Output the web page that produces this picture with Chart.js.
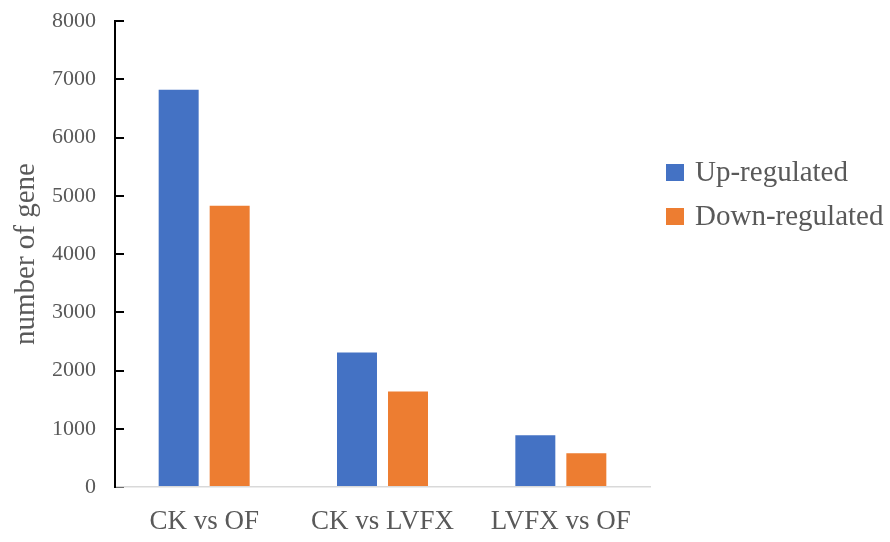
<!DOCTYPE html>
<html>
<head>
<meta charset="utf-8">
<script src="https://cdn.jsdelivr.net/npm/chart.js@4/dist/chart.umd.min.js"></script>
<style>
  html, body { margin: 0; padding: 0; background: #fff; }
  #wrap { width: 890px; height: 542px; }
</style>
</head>
<body>
<div id="wrap"><canvas id="c" width="890" height="542"></canvas></div>
<script>
// Comparisons and differentially expressed gene counts
const categories = ['CK vs OF', 'CK vs LVFX', 'LVFX vs OF'];
const upRegulated = [6820, 2310, 890];
const downRegulated = [4830, 1640, 580];
const yTicks = [0, 1000, 2000, 3000, 4000, 5000, 6000, 7000, 8000];

const FONT = '"Liberation Serif", "Times New Roman", serif';
const TEXT = '#595959';

// Legend drawn to the right of the plot, squares followed by labels
const sideLegend = {
  id: 'sideLegend',
  afterDraw(chart) {
    const ctx = chart.ctx;
    const x0 = chart.chartArea.right + 16;
    const y0 = 173;
    const step = 44;
    ctx.save();
    ctx.font = '29px ' + FONT;
    ctx.textBaseline = 'middle';
    ctx.textAlign = 'left';
    chart.data.datasets.forEach((ds, i) => {
      const cy = y0 + i * step;
      ctx.fillStyle = ds.backgroundColor;
      ctx.fillRect(x0, cy - 9, 18, 17);
      ctx.fillStyle = TEXT;
      ctx.fillText(ds.label, x0 + 29, cy);
    });
    ctx.restore();
  }
};

new Chart(document.getElementById('c'), {
  type: 'bar',
  data: {
    labels: categories,
    datasets: [
      { label: 'Up-regulated', data: upRegulated, backgroundColor: '#4472C4' },
      { label: 'Down-regulated', data: downRegulated, backgroundColor: '#ED7D31' }
    ]
  },
  options: {
    responsive: false,
    animation: false,
    devicePixelRatio: 1,
    layout: { padding: { top: 21, right: 240, bottom: 0, left: 0 } },
    datasets: { bar: { categoryPercentage: 0.572, barPercentage: 0.784 } },
    plugins: {
      legend: { display: false },
      tooltip: { enabled: false }
    },
    scales: {
      x: {
        grid: { display: false, drawTicks: false },
        border: { display: true, color: '#d9d9d9', width: 1.5 },
        ticks: {
          color: TEXT,
          font: { family: FONT, size: 27 },
          padding: 19,
          maxRotation: 0
        },
        afterFit(scale) { scale.height = 55; }
      },
      y: {
        min: 0,
        max: 8000,
        afterBuildTicks(scale) { scale.ticks = yTicks.map(v => ({ value: v })); },
        grid: {
          drawOnChartArea: false,
          drawTicks: true,
          tickLength: -9,
          color: '#000',
          lineWidth: 2
        },
        border: { display: true, color: '#000', width: 2 },
        ticks: {
          color: TEXT,
          font: { family: FONT, size: 22 },
          padding: 28,
          callback: (v) => String(v)
        },
        title: {
          display: true,
          text: 'number of gene',
          color: TEXT,
          font: { family: FONT, size: 29, lineHeight: 1 },
          padding: { top: 12, bottom: 0 }
        },
        afterFit(scale) {
          scale.width = 115;
          scale.paddingTop = 0;
          scale.paddingBottom = 0;
        }
      }
    }
  },
  plugins: [sideLegend]
});
</script>
</body>
</html>
